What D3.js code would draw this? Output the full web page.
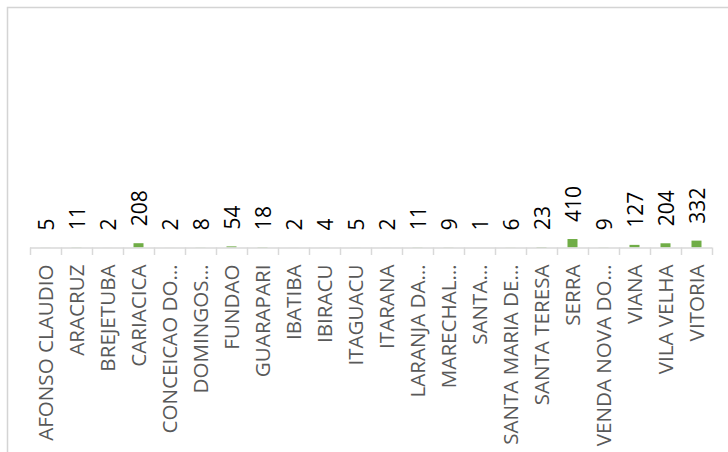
<!DOCTYPE html>
<html>
<head>
<meta charset="utf-8">
<script src="https://cdn.jsdelivr.net/npm/d3@7"></script>
<style>
  html, body { margin: 0; padding: 0; background: #fff; }
  svg { display: block; }
</style>
</head>
<body>
<svg id="chart" width="728" height="452"></svg>
<script>
const categories = [
  "AFONSO CLAUDIO", "ARACRUZ", "BREJETUBA", "CARIACICA", "CONCEICAO DO…",
  "DOMINGOS…", "FUNDAO", "GUARAPARI", "IBATIBA", "IBIRACU", "ITAGUACU",
  "ITARANA", "LARANJA DA…", "MARECHAL…", "SANTA…", "SANTA MARIA DE…",
  "SANTA TERESA", "SERRA", "VENDA NOVA DO…", "VIANA", "VILA VELHA", "VITORIA"
];
const values = [5, 11, 2, 208, 2, 8, 54, 18, 2, 4, 5, 2, 11, 9, 1, 6, 23, 410, 9, 127, 204, 332];
const yDomain = [0, 11000];

const svg = d3.select("#chart");

// chart frame (extends beyond the visible window at right and bottom)
svg.append("rect")
  .attr("x", 7.5).attr("y", 7.5)
  .attr("width", 760).attr("height", 480)
  .attr("fill", "#fff")
  .attr("stroke", "#d4d4d4")
  .attr("stroke-width", 1.5);

const xBand = d3.scaleBand().domain(categories).range([30, 712]);
const y = d3.scaleLinear().domain(yDomain).range([247.5, 20]);

// bars
svg.append("g").selectAll("rect")
  .data(values)
  .join("rect")
  .attr("x", (d, i) => xBand(categories[i]) + xBand.bandwidth() / 2 - 5)
  .attr("width", 10)
  .attr("y", d => y(d))
  .attr("height", d => y(0) - y(d))
  .attr("fill", "#70AD47");

// axis line and ticks at category boundaries
const axisG = svg.append("g");
axisG.append("line")
  .attr("x1", 30).attr("x2", 712)
  .attr("y1", y(0) + 0.5).attr("y2", y(0) + 0.5)
  .attr("stroke", "#d9d9d9").attr("stroke-width", 1.5);
const bounds = categories.map(c => xBand(c)).concat([712]);
axisG.selectAll("line.tick")
  .data(bounds)
  .join("line")
  .attr("class", "tick")
  .attr("x1", d => Math.round(d) + 0.5).attr("x2", d => Math.round(d) + 0.5)
  .attr("y1", y(0)).attr("y2", y(0) + 7.5)
  .attr("stroke", "#d9d9d9").attr("stroke-width", 1.5);

// category labels
svg.append("g").selectAll("text")
  .data(categories)
  .join("text")
  .attr("transform", d => `translate(${xBand(d) + xBand.bandwidth() / 2},264.5) rotate(-90)`)
  .attr("text-anchor", "end")
  .attr("dy", "0.36em")
  .attr("font-family", "'Open Sans', sans-serif")
  .attr("font-size", 20.6)
  .attr("fill", "#595959")
  .text(d => d);

// value labels
svg.append("g").selectAll("text")
  .data(values)
  .join("text")
  .attr("transform", (d, i) => `translate(${xBand(categories[i]) + xBand.bandwidth() / 2 + 1},${y(d) - 17}) rotate(-90)`)
  .attr("text-anchor", "start")
  .attr("dy", "0.36em")
  .attr("font-family", "'Open Sans', sans-serif")
  .attr("font-size", 21)
  .attr("fill", "#000")
  .text(d => d);
</script>
</body>
</html>
